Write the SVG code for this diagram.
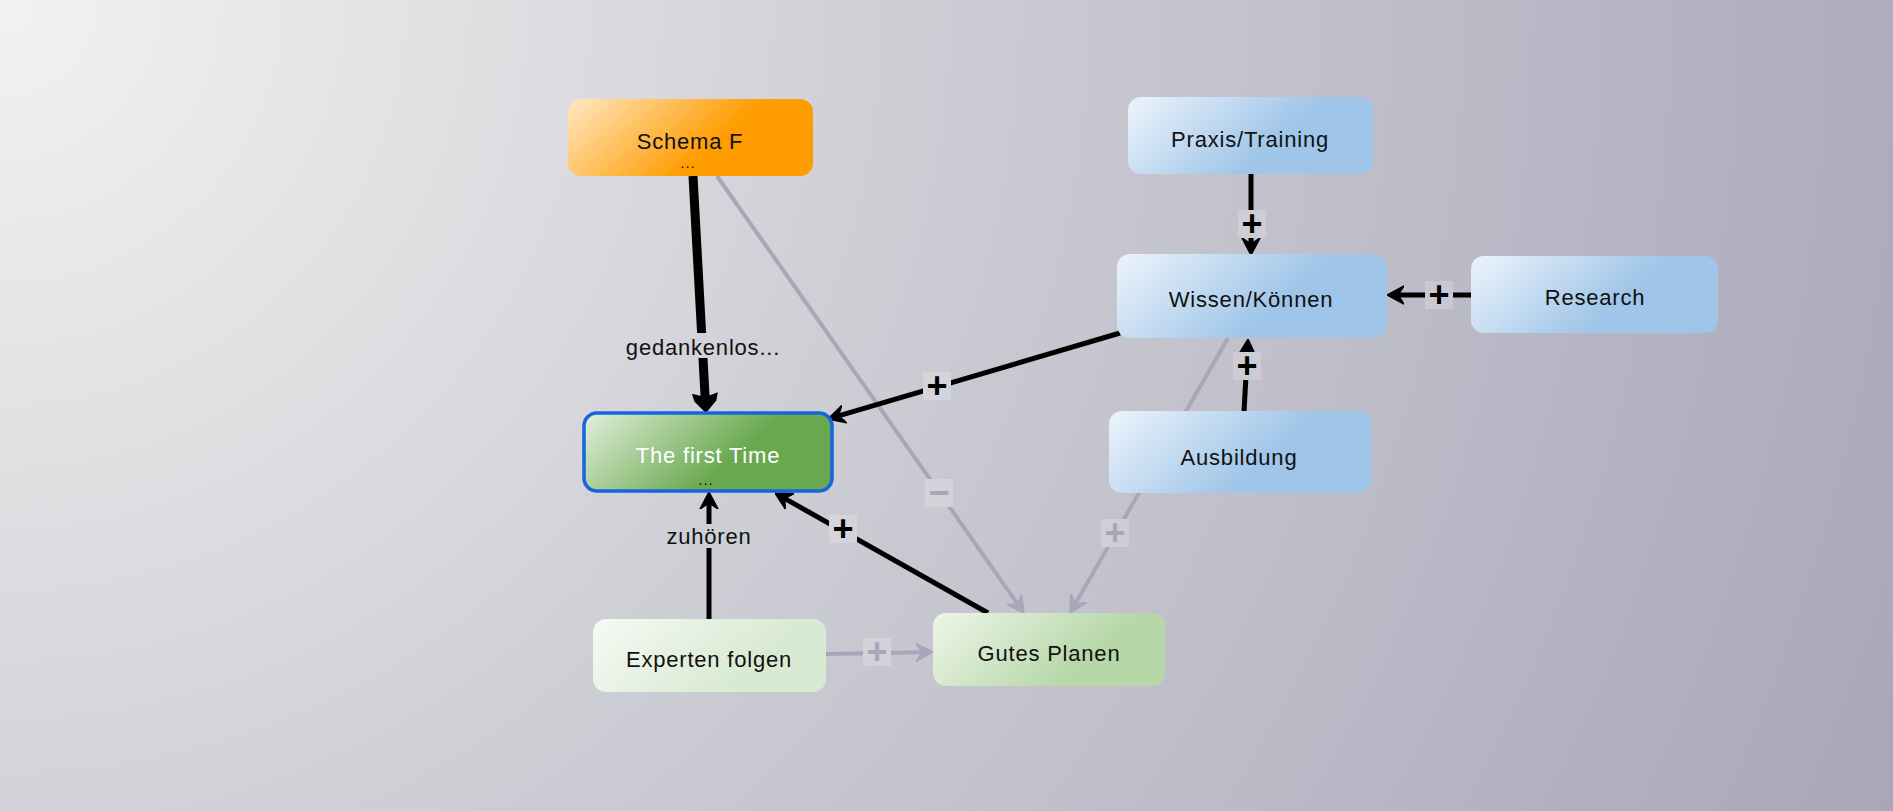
<svg xmlns="http://www.w3.org/2000/svg" width="1893" height="811" viewBox="0 0 1893 811">
<defs>
<radialGradient id="bg" gradientUnits="userSpaceOnUse" cx="0" cy="0" r="2060">
<stop offset="0" stop-color="#f2f2f2"/>
<stop offset="0.29" stop-color="#dbdbdf"/>
<stop offset="0.42" stop-color="#cfcfd6"/>
<stop offset="1" stop-color="#a8a6b9"/>
</radialGradient>
<linearGradient id="gOrange" x1="0" y1="0" x2="1" y2="0.35">
<stop offset="0" stop-color="#ffe8c4"/>
<stop offset="0.72" stop-color="#ff9c00"/>
<stop offset="1" stop-color="#ff9c00"/>
</linearGradient>
<linearGradient id="gBlue" x1="0" y1="0" x2="1" y2="0.35">
<stop offset="0" stop-color="#edf4fc"/>
<stop offset="0.72" stop-color="#9fc5e8"/>
<stop offset="1" stop-color="#9fc5e8"/>
</linearGradient>
<linearGradient id="gGreenDark" x1="0" y1="0" x2="1" y2="0.35">
<stop offset="0" stop-color="#e2f0dc"/>
<stop offset="0.72" stop-color="#6aa84f"/>
<stop offset="1" stop-color="#6aa84f"/>
</linearGradient>
<linearGradient id="gGreenLight" x1="0" y1="0" x2="1" y2="0.35">
<stop offset="0" stop-color="#f6faf4"/>
<stop offset="0.8" stop-color="#d9ead3"/>
<stop offset="1" stop-color="#d9ead3"/>
</linearGradient>
<linearGradient id="gGreenMid" x1="0" y1="0" x2="1" y2="0.35">
<stop offset="0" stop-color="#eef6ea"/>
<stop offset="0.8" stop-color="#b6d7a8"/>
<stop offset="1" stop-color="#b6d7a8"/>
</linearGradient>
<marker id="aBlack" markerUnits="userSpaceOnUse" viewBox="0 0 17 20" markerWidth="17" markerHeight="20" refX="6" refY="10" orient="auto">
<path d="M0,1 L17,10 L0,19 L6,10 z" fill="#000" stroke="#000" stroke-width="1.5" stroke-linejoin="round"/>
</marker>
<marker id="aBig" markerUnits="userSpaceOnUse" viewBox="0 0 20 26" markerWidth="20" markerHeight="26" refX="4" refY="13" orient="auto">
<path d="M0,0 L8,2 L20,13 L8,24 L0,26 L4,13 z" fill="#000"/>
</marker>
<marker id="aGray" markerUnits="userSpaceOnUse" viewBox="0 0 17 20" markerWidth="17" markerHeight="20" refX="6" refY="10" orient="auto">
<path d="M0,1 L17,10 L0,19 L6,10 z" fill="#a8a7ba" stroke="#a8a7ba" stroke-width="1.5" stroke-linejoin="round"/>
</marker>
<style>
.node text{font-family:"Liberation Sans",Arial,sans-serif;font-size:22px;letter-spacing:0.8px;fill:#111;text-anchor:middle;dominant-baseline:central}
.node .dots{font-size:15px;letter-spacing:1px}
.box{stroke:none}
.e{fill:none;stroke:#000;stroke-width:5}
.ethick{fill:none;stroke:#000;stroke-width:9}
.eg{fill:none;stroke:#a8a7ba;stroke-width:4}
.lbl{font-family:"Liberation Sans",Arial,sans-serif;font-size:22px;letter-spacing:0.8px;fill:#111;text-anchor:middle;dominant-baseline:central}
.sym{font-family:"Liberation Sans",Arial,sans-serif;font-size:36px;font-weight:bold;text-anchor:middle}
.bgr{fill:url(#bg)}
.sq{fill:#ffffff;fill-opacity:0.2}
</style>
</defs>
<rect x="0" y="0" width="1893" height="811" fill="url(#bg)"/>
<g id="connectors">
<line class="ethick" x1="693" y1="176" x2="705.1" y2="397" marker-end="url(#aBig)"/>
<line class="eg" x1="717" y1="176" x2="1017.7" y2="604" marker-end="url(#aGray)"/>
<line class="e" x1="1120" y1="333" x2="838.5" y2="415.9" marker-end="url(#aBlack)"/>
<line class="e" x1="988" y1="613" x2="784.6" y2="498.4" marker-end="url(#aBlack)"/>
<line class="e" x1="709" y1="619" x2="709" y2="503" marker-end="url(#aBlack)"/>
<line class="eg" x1="826" y1="654" x2="922" y2="652.2" marker-end="url(#aGray)"/>
<line class="e" x1="1251" y1="174" x2="1251" y2="244" marker-end="url(#aBlack)"/>
<line class="e" x1="1472" y1="295" x2="1398" y2="295" marker-end="url(#aBlack)"/>
<line class="e" x1="1244" y1="412" x2="1247.4" y2="350" marker-end="url(#aBlack)"/>
<line class="eg" x1="1228" y1="338" x2="1075.5" y2="603.5" marker-end="url(#aGray)"/>
<rect class="bgr" x="623" y="333" width="160" height="25"/>
<text class="lbl" x="703" y="347">gedankenlos...</text>
<rect class="bgr" x="664" y="524" width="90" height="24"/>
<text class="lbl" x="709" y="536">zuhören</text>
<g>
<rect class="bgr" x="925" y="479" width="28" height="28"/><rect class="sq" x="925" y="479" width="28" height="28"/>
<text class="sym" x="939" y="505" fill="#a8a7ba">−</text>
</g>
<g>
<rect class="bgr" x="923" y="372" width="28" height="28"/><rect class="sq" x="923" y="372" width="28" height="28"/>
<text class="sym" x="937" y="398" fill="#000">+</text>
</g>
<g>
<rect class="bgr" x="829" y="515" width="28" height="28"/><rect class="sq" x="829" y="515" width="28" height="28"/>
<text class="sym" x="843" y="541" fill="#000">+</text>
</g>
<g>
<rect class="bgr" x="863" y="638" width="28" height="28"/><rect class="sq" x="863" y="638" width="28" height="28"/>
<text class="sym" x="877" y="664" fill="#a8a7ba">+</text>
</g>
<g>
<rect class="bgr" x="1238" y="210" width="28" height="28"/><rect class="sq" x="1238" y="210" width="28" height="28"/>
<text class="sym" x="1252" y="236" fill="#000">+</text>
</g>
<g>
<rect class="bgr" x="1425" y="281" width="28" height="28"/><rect class="sq" x="1425" y="281" width="28" height="28"/>
<text class="sym" x="1439" y="307" fill="#000">+</text>
</g>
<g>
<rect class="bgr" x="1233" y="352" width="28" height="28"/><rect class="sq" x="1233" y="352" width="28" height="28"/>
<text class="sym" x="1247" y="378" fill="#000">+</text>
</g>
<g>
<rect class="bgr" x="1101" y="519" width="28" height="28"/><rect class="sq" x="1101" y="519" width="28" height="28"/>
<text class="sym" x="1115" y="545" fill="#a8a7ba">+</text>
</g>
</g>
<g id="node-schema-f" class="node">
<rect class="box" x="568" y="99" width="245" height="77" rx="13" fill="url(#gOrange)"/>
<text x="690" y="141">Schema F</text>
<text class="dots" x="688" y="162">...</text>
</g>
<g id="node-first-time" class="node">
<rect x="584" y="413" width="248" height="78" rx="13" fill="url(#gGreenDark)" stroke="#1565e0" stroke-width="3.5"/>
<text x="708" y="455" style="fill:#fff">The first Time</text>
<text class="dots" x="706" y="479">...</text>
</g>
<g id="node-praxis" class="node">
<rect class="box" x="1128" y="97" width="245" height="77" rx="13" fill="url(#gBlue)"/>
<text x="1250" y="139">Praxis/Training</text>
</g>
<g id="node-wissen" class="node">
<rect class="box" x="1117" y="254" width="270" height="84" rx="13" fill="url(#gBlue)"/>
<text x="1251" y="299">Wissen/Können</text>
</g>
<g id="node-research" class="node">
<rect class="box" x="1471" y="256" width="247" height="77" rx="13" fill="url(#gBlue)"/>
<text x="1595" y="297">Research</text>
</g>
<g id="node-ausbildung" class="node">
<rect class="box" x="1109" y="411" width="262" height="82" rx="13" fill="url(#gBlue)"/>
<text x="1239" y="457">Ausbildung</text>
</g>
<g id="node-experten" class="node">
<rect class="box" x="593" y="619" width="233" height="73" rx="13" fill="url(#gGreenLight)"/>
<text x="709" y="659">Experten folgen</text>
</g>
<g id="node-gutes-planen" class="node">
<rect class="box" x="933" y="613" width="232" height="73" rx="13" fill="url(#gGreenMid)"/>
<text x="1049" y="653">Gutes Planen</text>
</g>
</svg>
